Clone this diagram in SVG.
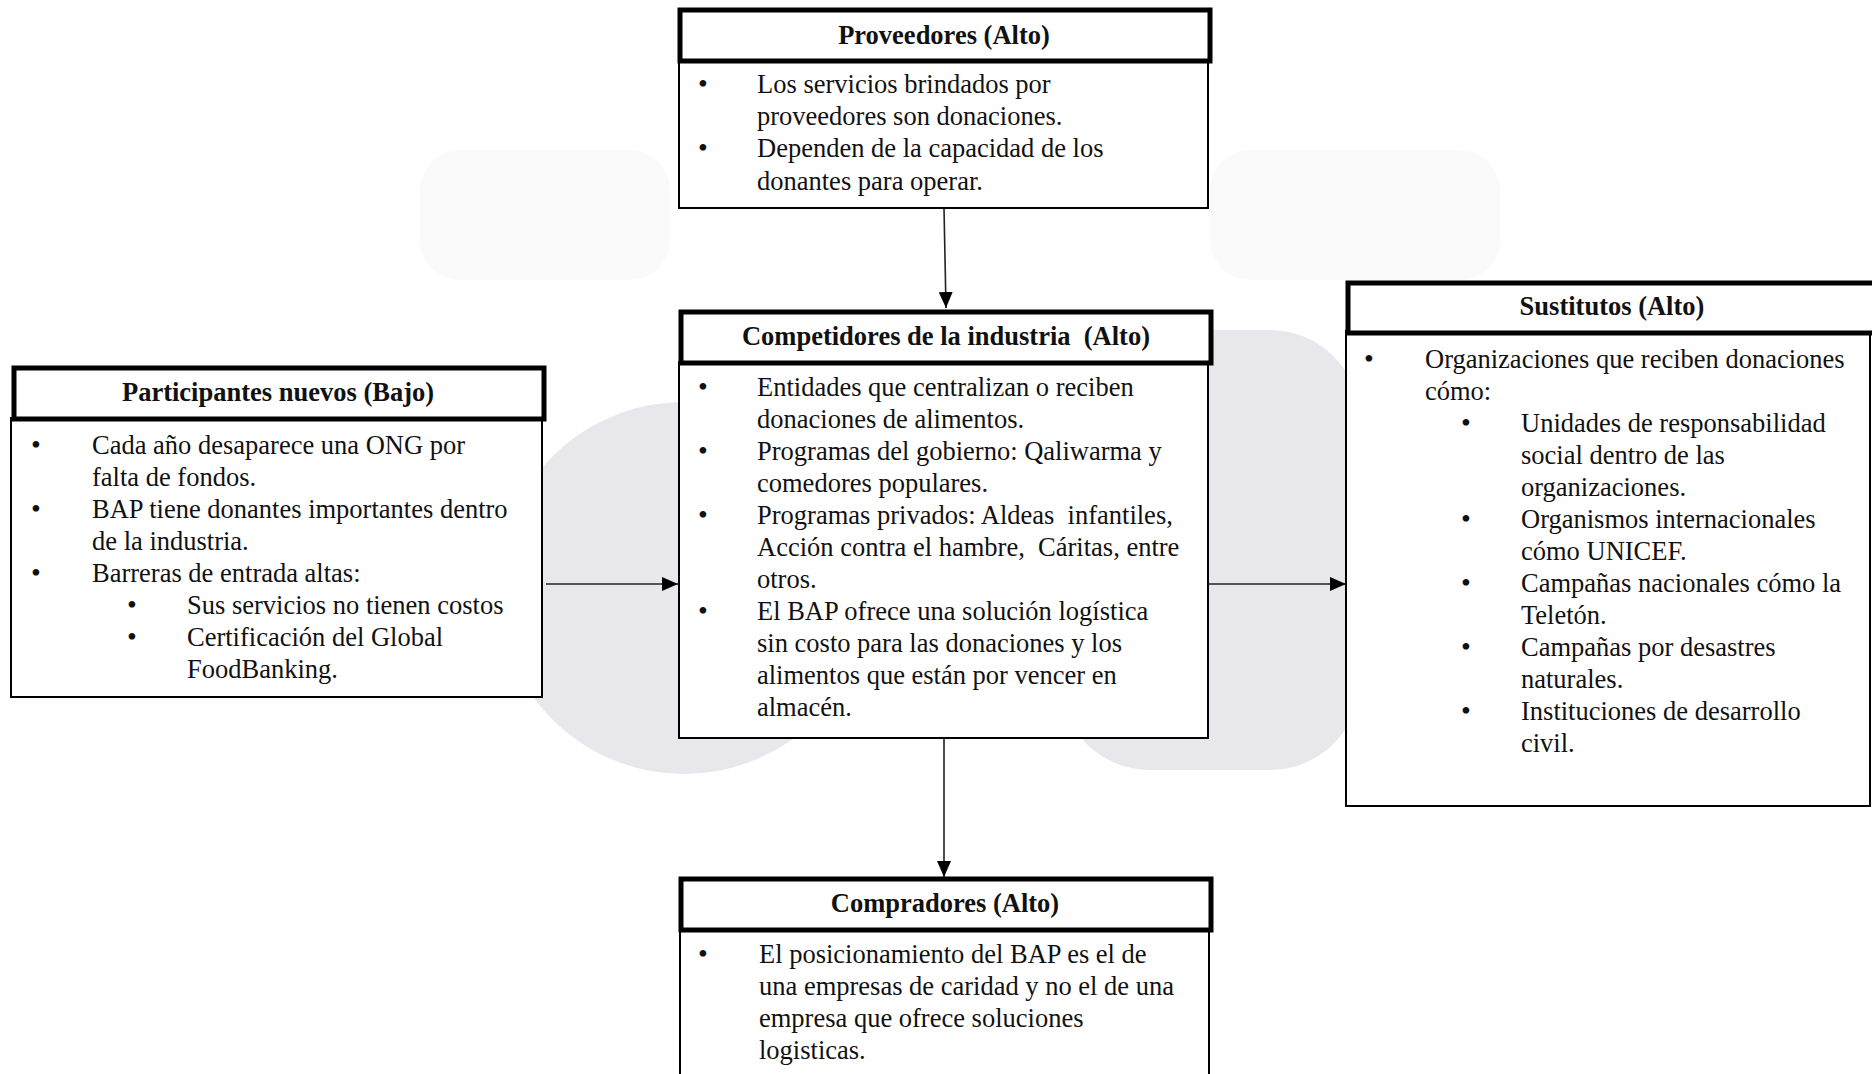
<svg xmlns="http://www.w3.org/2000/svg" width="1872" height="1074" viewBox="0 0 1872 1074">
<style>
.hdr{fill:#fff;stroke:#000;stroke-width:5}
.body{fill:#fff;stroke:#000;stroke-width:2}
.t{font-family:"Liberation Serif","Times New Roman",serif;font-size:26.5px;fill:#111;white-space:pre}
.b{font-family:"Liberation Serif","Times New Roman",serif;font-size:26.5px;font-weight:bold;fill:#111;text-anchor:middle;white-space:pre}
.dot{font-family:"Liberation Serif","Times New Roman",serif;font-size:28px;fill:#111}
.wm{fill:#e8e8ec}
.wm2{fill:#fafafb}
.conn{stroke:#222;stroke-width:1.6;fill:none}
</style>
<defs>
<marker id="ah" markerWidth="16" markerHeight="14" refX="16" refY="7" orient="auto" markerUnits="userSpaceOnUse">
<path d="M0,0 L16,7 L0,14 Z" fill="#000"/>
</marker>
</defs>
<rect width="1872" height="1074" fill="#fff"/>
<g id="watermark">
<rect class="wm2" x="420" y="150" width="250" height="130" rx="40"/>
<rect class="wm2" x="1210" y="150" width="290" height="130" rx="40"/>
<circle class="wm" cx="684" cy="588" r="186"/>
<rect class="wm" x="1060" y="330" width="300" height="440" rx="90"/>
</g>
<g id="connectors">
<line class="conn" x1="944" y1="208" x2="946" y2="308" marker-end="url(#ah)"/>
<line class="conn" x1="944" y1="738" x2="944" y2="877" marker-end="url(#ah)"/>
<line class="conn" x1="546" y1="584" x2="678" y2="584" marker-end="url(#ah)"/>
<line class="conn" x1="1209" y1="584" x2="1346" y2="584" marker-end="url(#ah)"/>
</g>
<g id="proveedores">
<rect class="body" x="679" y="60" width="529" height="148"/>
<rect class="hdr" x="680" y="10" width="530" height="51"/>
<text class="b" x="944" y="44">Proveedores (Alto)</text>
<text class="dot" x="698" y="93">•</text>
<text class="t" x="757" y="93">Los servicios brindados por</text>
<text class="t" x="757" y="125">proveedores son donaciones.</text>
<text class="dot" x="698" y="157">•</text>
<text class="t" x="757" y="157">Dependen de la capacidad de los</text>
<text class="t" x="757" y="190">donantes para operar.</text>
</g>
<g id="competidores">
<rect class="body" x="679" y="362" width="529" height="376"/>
<rect class="hdr" x="681" y="312" width="530" height="51"/>
<text class="b" x="946" y="345">Competidores de la industria  (Alto)</text>
<text class="dot" x="698" y="396">•</text>
<text class="t" x="757" y="396">Entidades que centralizan o reciben</text>
<text class="t" x="757" y="428">donaciones de alimentos.</text>
<text class="dot" x="698" y="460">•</text>
<text class="t" x="757" y="460">Programas del gobierno: Qaliwarma y</text>
<text class="t" x="757" y="492">comedores populares.</text>
<text class="dot" x="698" y="524">•</text>
<text class="t" x="757" y="524">Programas privados: Aldeas  infantiles,</text>
<text class="t" x="757" y="556">Acción contra el hambre,  Cáritas, entre</text>
<text class="t" x="757" y="588">otros.</text>
<text class="dot" x="698" y="620">•</text>
<text class="t" x="757" y="620">El BAP ofrece una solución logística</text>
<text class="t" x="757" y="652">sin costo para las donaciones y los</text>
<text class="t" x="757" y="684">alimentos que están por vencer en</text>
<text class="t" x="757" y="716">almacén.</text>
</g>
<g id="participantes">
<rect class="body" x="11" y="418" width="531" height="279"/>
<rect class="hdr" x="14" y="368" width="530" height="51"/>
<text class="b" x="278" y="401">Participantes nuevos (Bajo)</text>
<text class="dot" x="31" y="454">•</text>
<text class="t" x="92" y="454">Cada año desaparece una ONG por</text>
<text class="t" x="92" y="486">falta de fondos.</text>
<text class="dot" x="31" y="518">•</text>
<text class="t" x="92" y="518">BAP tiene donantes importantes dentro</text>
<text class="t" x="92" y="550">de la industria.</text>
<text class="dot" x="31" y="582">•</text>
<text class="t" x="92" y="582">Barreras de entrada altas:</text>
<text class="dot" x="127" y="614">•</text>
<text class="t" x="187" y="614">Sus servicios no tienen costos</text>
<text class="dot" x="127" y="646">•</text>
<text class="t" x="187" y="646">Certificación del Global</text>
<text class="t" x="187" y="678">FoodBanking.</text>
</g>
<g id="sustitutos">
<rect class="body" x="1346" y="331" width="524" height="475"/>
<rect class="hdr" x="1348" y="283" width="530" height="50"/>
<text class="b" x="1612" y="315">Sustitutos (Alto)</text>
<text class="dot" x="1364" y="368">•</text>
<text class="t" x="1425" y="368">Organizaciones que reciben donaciones</text>
<text class="t" x="1425" y="400">cómo:</text>
<text class="dot" x="1461" y="432">•</text>
<text class="t" x="1521" y="432">Unidades de responsabilidad</text>
<text class="t" x="1521" y="464">social dentro de las</text>
<text class="t" x="1521" y="496">organizaciones.</text>
<text class="dot" x="1461" y="528">•</text>
<text class="t" x="1521" y="528">Organismos internacionales</text>
<text class="t" x="1521" y="560">cómo UNICEF.</text>
<text class="dot" x="1461" y="592">•</text>
<text class="t" x="1521" y="592">Campañas nacionales cómo la</text>
<text class="t" x="1521" y="624">Teletón.</text>
<text class="dot" x="1461" y="656">•</text>
<text class="t" x="1521" y="656">Campañas por desastres</text>
<text class="t" x="1521" y="688">naturales.</text>
<text class="dot" x="1461" y="720">•</text>
<text class="t" x="1521" y="720">Instituciones de desarrollo</text>
<text class="t" x="1521" y="752">civil.</text>
</g>
<g id="compradores">
<rect class="body" x="680" y="929" width="529" height="160"/>
<rect class="hdr" x="681" y="879" width="530" height="51"/>
<text class="b" x="945" y="912">Compradores (Alto)</text>
<text class="dot" x="698" y="963">•</text>
<text class="t" x="759" y="963">El posicionamiento del BAP es el de</text>
<text class="t" x="759" y="995">una empresas de caridad y no el de una</text>
<text class="t" x="759" y="1027">empresa que ofrece soluciones</text>
<text class="t" x="759" y="1059">logisticas.</text>
</g>
</svg>
